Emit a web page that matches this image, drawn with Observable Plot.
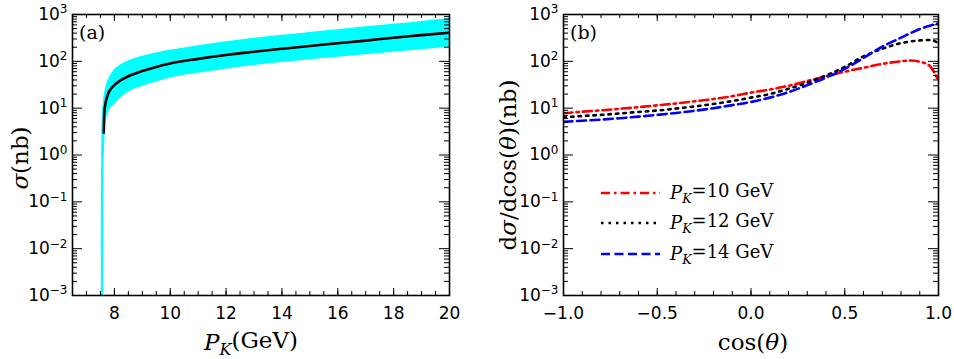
<!DOCTYPE html>
<html><head><meta charset="utf-8">
<script src="https://cdn.jsdelivr.net/npm/d3@7"></script>
<script src="https://cdn.jsdelivr.net/npm/@observablehq/plot@0.6"></script>
<style>
body{margin:0;background:#fff;}
#fig{position:relative;width:954px;height:359px;background:#fff;}
#fig svg{position:absolute;top:0;overflow:visible;}
</style></head><body><div id="fig"></div>
<script>
// ---------- Panel (a): total cross section vs P_K ----------
const aP     = [7.53, 7.545, 7.56, 7.58, 7.60, 7.61, 7.62, 7.63, 7.65, 7.67, 7.70, 7.72, 7.8, 7.9, 8.0, 8.25, 8.5, 9, 9.5, 10, 11, 12, 13, 14, 15, 16, 17, 18, 19, 20];
const aUpper = [1e-4, 1, 4, 9, 12, 14, 16, 17.5, 21, 24, 29, 32, 42, 54, 66, 86, 102, 128, 150, 172, 215, 262, 310, 360, 415, 475, 545, 620, 710, 810];
const aLower = [1e-4, 1e-4, 1e-4, 1e-4, 1e-4, 1e-4, 0.05, 0.5, 1.5, 3, 4.8, 5.8, 8.5, 10.5, 12, 17, 22, 29, 36, 44, 56, 68, 81, 94, 108, 122, 138, 156, 176, 200];
const aSigma = [null, null, null, null, null, null, 3, 6, 9.5, 11.5, 14.5, 16, 22, 27, 31, 40, 48, 62, 76, 90, 113, 137, 160, 185, 213, 243, 277, 320, 362, 410];
const aXTicks = [8, 10, 12, 14, 16, 18, 20];
const aXDomain = [6.5, 20];

// ---------- Panel (b): angular distributions ----------
const cosT   = [-1, -0.9, -0.8, -0.7, -0.6, -0.5, -0.4, -0.3, -0.2, -0.1, 0, 0.1, 0.2, 0.3, 0.4, 0.5, 0.6, 0.7, 0.8, 0.85, 0.9, 0.95, 0.98, 1.0];
const pk10   = [7.8, 8.4, 9.0, 9.7, 10.5, 11.5, 12.6, 14.0, 15.7, 18.0, 21.5, 25, 30, 38, 48, 60, 73, 88, 100, 104, 98, 82, 55, 38];
const pk12   = [6.4, 6.8, 7.2, 7.7, 8.3, 8.9, 9.8, 10.9, 12.3, 14.2, 16.8, 20, 26, 35, 50, 76, 128, 185, 245, 265, 280, 285, 270, 240];
const pk14   = [5.1, 5.4, 5.7, 6.1, 6.6, 7.2, 7.9, 8.8, 10, 11.6, 13.6, 16.8, 22, 31, 45, 69, 118, 205, 320, 400, 490, 570, 620, 640];
const seriesNames  = ["P_K=10 GeV", "P_K=12 GeV", "P_K=14 GeV"];
const seriesColors = ["#ff0000", "#000000", "#0000ff"];
const seriesDash   = ["9,4,2.5,4", "2.5,5", "9,4.5"];
const bXTicks = [-1, -0.5, 0, 0.5, 1];
const bXDomain = [-1, 1];

// shared log axis
const yExps = [-3, -2, -1, 0, 1, 2, 3];
const yDomain = [1e-3, 1e3];

// ---------- helpers ----------
const serif = "'DejaVu Serif', serif";
const sans = "'DejaVu Sans', sans-serif";
const H = 359, mT = 14, mB = 64;
const ph = H - mT - mB;
const yMajor = yExps.map(e => Math.pow(10, e));
const yMinor = [];
for (const e of yExps.slice(0, -1)) for (let m = 2; m <= 9; m++) yMinor.push(m * Math.pow(10, e));

function frameTicks(pw, xMajor, xMinor) {
  const s = {stroke: "black", strokeWidth: 1};
  return [
    Plot.tickX(xMinor, {x: d => d, insetTop: ph - 4, ...s}),
    Plot.tickX(xMinor, {x: d => d, insetBottom: ph - 4, ...s}),
    Plot.tickX(xMajor, {x: d => d, insetTop: ph - 7, ...s}),
    Plot.tickX(xMajor, {x: d => d, insetBottom: ph - 7, ...s}),
    Plot.tickY(yMinor, {y: d => d, insetRight: pw - 5, ...s}),
    Plot.tickY(yMinor, {y: d => d, insetLeft: pw - 5, ...s}),
    Plot.tickY(yMajor, {y: d => d, insetRight: pw - 10, ...s}),
    Plot.tickY(yMajor, {y: d => d, insetLeft: pw - 10, ...s}),
    Plot.frame({stroke: "black", strokeWidth: 1.6})
  ];
}
function axes(xTicks, fmt) {
  return [
    Plot.axisX(xTicks, {tickSize: 0, tickPadding: 11, tickFormat: fmt, label: null, fontSize: 17, fontFamily: sans, fill: "black"}),
    Plot.axisY(yMajor, {tickSize: 0, tickPadding: 5, tickFormat: d => "10^" + Math.round(Math.log10(d)), label: null, fontSize: 17, fontFamily: sans, fill: "black"})
  ];
}
function supLabels(svg) {
  d3.select(svg).selectAll('g[aria-label="y-axis tick label"] text').each(function () {
    const t = d3.select(this);
    const [b, e] = t.text().split("^");
    t.text(null);
    t.append("tspan").text(b);
    t.append("tspan").attr("dy", "-0.55em").attr("font-size", "12px").text(e.replace("-", "\u2212"));
  });
}
function addText(svg, x, y, parts, opts = {}) {
  const t = d3.select(svg).append("text")
    .attr("font-family", serif).attr("font-size", opts.size || 23)
    .attr("text-anchor", opts.anchor || "middle").attr("fill", "black")
    .attr("transform", `translate(${x},${y})` + (opts.rotate ? ` rotate(${opts.rotate})` : ""));
  for (const p of parts) {
    const s = t.append("tspan").text(p.t);
    if (p.i) s.attr("font-style", "italic");
    if (p.sub) s.attr("font-size", "70%").attr("dy", "0.3em");
    if (p.dy) s.attr("dy", p.dy);
  }
  return t;
}

const fig = document.getElementById("fig");

// ---------- Panel (a) ----------
const aData = aP.map((p, i) => ({p, hi: aUpper[i], lo: aLower[i], s: aSigma[i]}));
const aML = 72, aMR = 31, aW = 480;
const aXMinor = d3.range(aXDomain[0], aXDomain[1] + 0.001, 0.5);
const plotA = Plot.plot({
  width: aW, height: H, marginLeft: aML, marginRight: aMR, marginTop: mT, marginBottom: mB,
  style: {fontFamily: sans, background: "transparent", color: "black"},
  x: {domain: aXDomain},
  y: {type: "log", domain: yDomain},
  marks: [
    Plot.areaY(aData, {x: "p", y1: "lo", y2: "hi", fill: "#00ffff", clip: true, curve: "monotone-x"}),
    Plot.line(aData, {x: "p", y: "s", stroke: "black", strokeWidth: 2.6, clip: true, curve: "monotone-x"}),
    ...frameTicks(aW - aML - aMR, aXTicks, aXMinor),
    ...axes(aXTicks, d => String(d))
  ]
});
plotA.style.left = "0px";
fig.appendChild(plotA);
supLabels(plotA);
addText(plotA, 28, 158, [{t: "σ", i: true}, {t: "(nb)"}], {rotate: -90});
addText(plotA, 251, 350, [{t: "P", i: true}, {t: "K", i: true, sub: true}, {t: "(GeV)", dy: "-0.3em"}]);
addText(plotA, 79, 39, [{t: "(a)"}], {anchor: "start", size: 19});

// ---------- Panel (b) ----------
const bData = [];
[pk10, pk12, pk14].forEach((arr, k) => arr.forEach((v, i) => bData.push({c: cosT[i], v, k})));
const bML = 83, bMR = 16, bW = 474;
const bXMinor = d3.range(-1, 1.001, 0.1).map(d => Math.round(d * 10) / 10);
const plotB = Plot.plot({
  width: bW, height: H, marginLeft: bML, marginRight: bMR, marginTop: mT, marginBottom: mB,
  style: {fontFamily: sans, background: "transparent", color: "black"},
  x: {domain: bXDomain},
  y: {type: "log", domain: yDomain},
  marks: [
    ...[0, 1, 2].map(k => Plot.line(bData.filter(d => d.k === k), {
      x: "c", y: "v", stroke: seriesColors[k], strokeWidth: 2.6,
      strokeDasharray: seriesDash[k], curve: "monotone-x", clip: true
    })),
    ...frameTicks(bW - bML - bMR, bXTicks, bXMinor),
    ...axes(bXTicks, d3.format(".1f"))
  ]
});
plotB.style.left = "480px";
fig.appendChild(plotB);
supLabels(plotB);
addText(plotB, 36, 165, [{t: "d"}, {t: "σ", i: true}, {t: "/dcos("}, {t: "θ", i: true}, {t: ")(nb)"}], {rotate: -90});
addText(plotB, 273, 350, [{t: "cos("}, {t: "θ", i: true}, {t: ")"}]);
addText(plotB, 90, 39, [{t: "(b)"}], {anchor: "start", size: 19});

// legend (inside panel b)
const legY = [193, 223, 254];
const lg = d3.select(plotB).append("g");
seriesNames.forEach((name, k) => {
  lg.append("line").attr("x1", 121).attr("x2", 180).attr("y1", legY[k]).attr("y2", legY[k])
    .attr("stroke", seriesColors[k]).attr("stroke-width", 2.6).attr("stroke-dasharray", seriesDash[k]);
  const rhs = name.split("=")[1];
  addText(plotB, 190, legY[k] + 6, [
    {t: "P", i: true}, {t: "K", i: true, sub: true}, {t: "=" + rhs, dy: "-0.3em"}
  ], {anchor: "start", size: 18});
});
</script></body></html>
